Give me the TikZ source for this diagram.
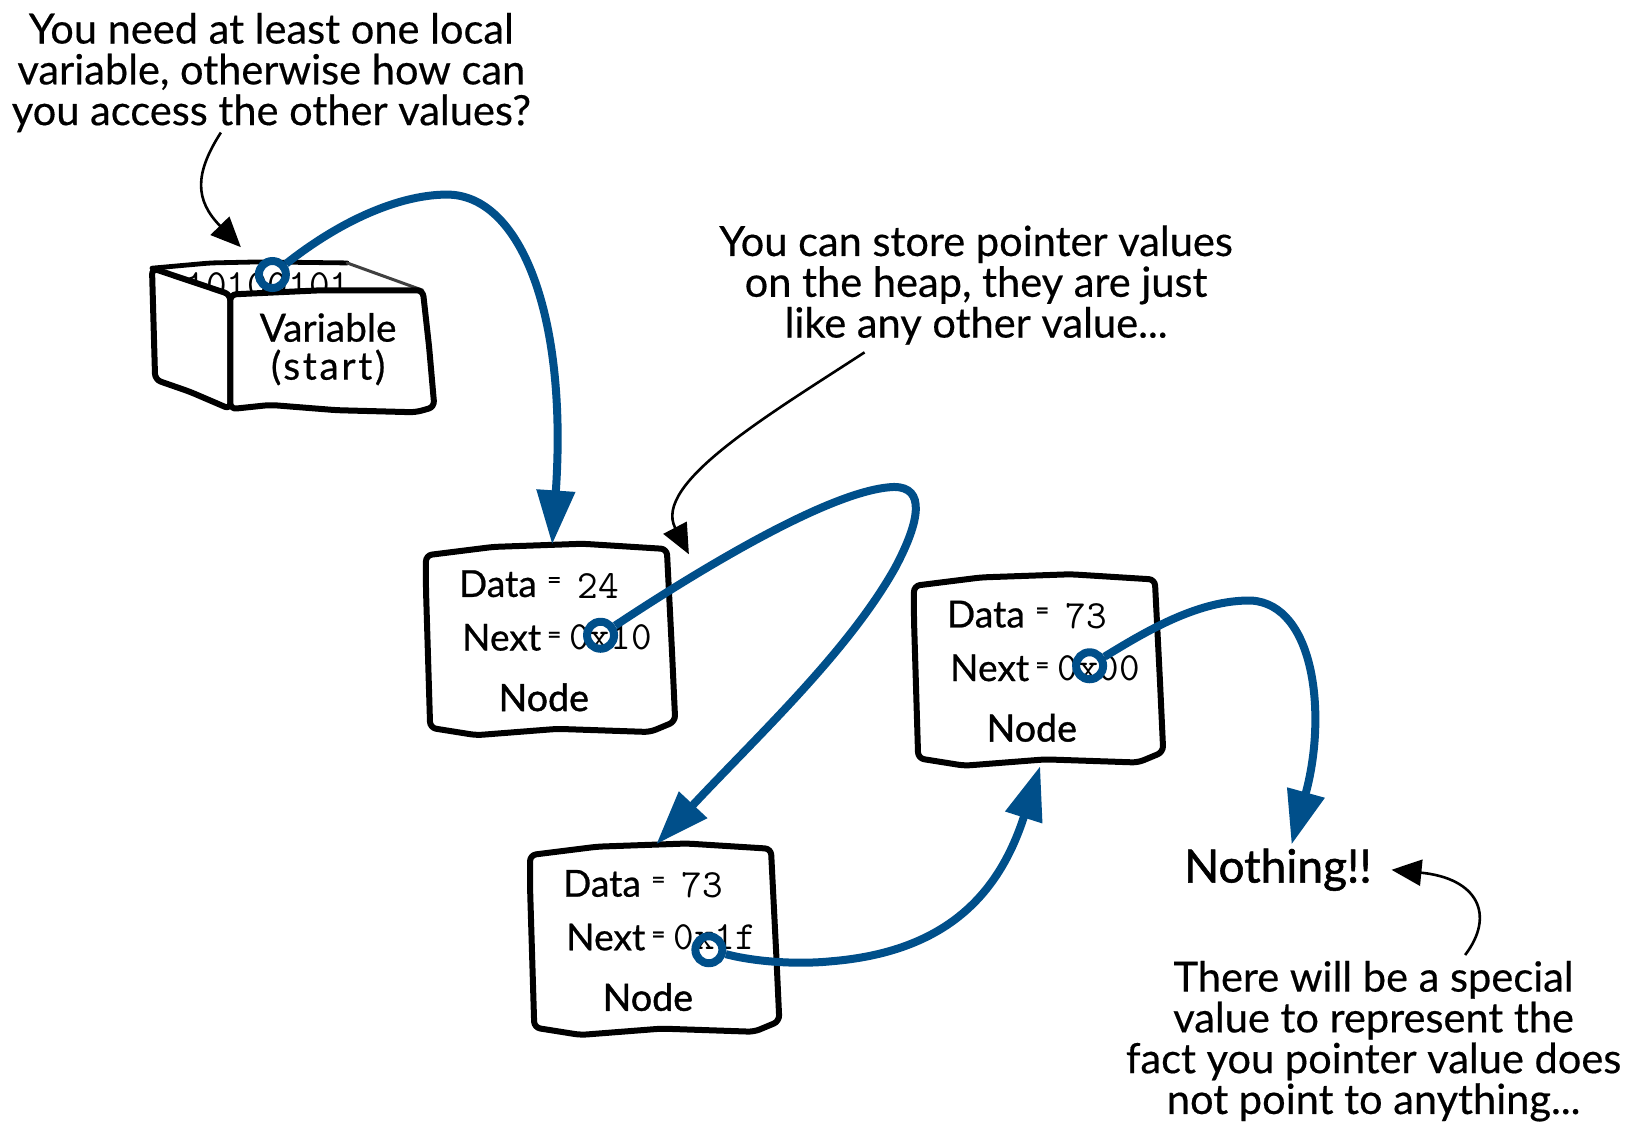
\documentclass[tikz,border=0pt]{standalone}
\usepackage{fontspec}
\setmainfont{Lato}
\usetikzlibrary{arrows.meta}
\definecolor{ptr}{HTML}{004F8A}
\tikzset{
  notetext/.style={align=center,inner sep=0pt,font=\fontsize{20.8}{20.4}\selectfont\addfontfeature{FakeBold=.4}},
  labeltext/.style={anchor=west,inner sep=0pt,font=\fontsize{18.6}{20}\selectfont\addfontfeature{FakeBold=.6}},
  eqtext/.style={inner sep=0pt,font=\fontsize{12}{12}\selectfont\addfontfeature{FakeBold=1}},
  valuetext/.style={anchor=west,inner sep=0pt,font=\fontsize{20}{22}\selectfont\ttfamily\addfontfeature{LetterSpace=3}},
  nodetitle/.style={inner sep=0pt,font=\fontsize{18.8}{20}\selectfont\addfontfeature{FakeBold=1.2}},
  edgeline/.style={line width=3pt,line join=round,line cap=round,rounded corners=3pt},
  ring/.style={circle,draw=ptr,line width=4pt,minimum size=13.5pt,inner sep=0pt},
  ptrarrow/.style={draw=ptr,line width=4pt,-{Triangle[width=18.5pt,length=27pt,fill=ptr]}},
  notearrow/.style={draw=black,line width=1.3pt,-{Triangle[width=13pt,length=15pt,fill=black]}},
  anchorbox/.style={minimum width=121pt,minimum height=95.2pt,inner sep=0pt}
}
\newcommand{\listnode}[5]{%
  \begin{scope}[shift={(#1,#2)}]
    \draw[edgeline,fill=white] (405,560) -- (405,528) -- (469,520) -- (554,517) -- (634,522) -- (639,621) -- (642,686) -- (618,696) -- (530,693) -- (453,699) -- (409,692) -- cycle;
    \node[anchorbox] (#3) at (525,608.5) {};
    \node[labeltext] (#3d) at (436,555) {Data};
    \node[eqtext] (#3de) at (527,554) {=};
    \node[valuetext] (#3dv) at (549,557) {#4};
    \node[labeltext] (#3n) at (439,606) {Next};
    \node[eqtext] (#3ne) at (527,606) {=};
    \node[valuetext] (#3nv) at (541,606) {#5};
    \node[nodetitle] (#3t) at (517,663) {Node};
  \end{scope}}
\begin{document}
\begin{tikzpicture}[x=0.526pt,y=-0.526pt]
\useasboundingbox (0,0) rectangle (1565,1073.4);
\fill[white] (0,0) rectangle (1565,1073.4);

% variable box
\fill[white] (144.5,255) -- (200,250) -- (247,249) -- (330,250) -- (402,276) -- (219,280) -- cycle;
\begin{scope}
  \clip (150,240) rectangle (335,300);
  \node[valuetext,font=\fontsize{20}{22}\selectfont\ttfamily\addfontfeature{LetterSpace=5}] (bits) at (176,271) {10100101};
\end{scope}
\draw[edgeline,line width=2.4pt] (144.5,255) -- (200,250) -- (247,249) -- (330,250);
\draw[edgeline,line width=1.5pt,draw=black!75] (330,250) -- (402,276);
\draw[edgeline,fill=white] (144.5,255) -- (219,280) -- (219,389) -- (180.6,372.5) -- (147.5,361) -- cycle;
\draw[edgeline,fill=white] (219,280) -- (305,276) -- (402,276) -- (408,330) -- (413,387) -- (395,392) -- (320,390) -- (257,385) -- (219,389) -- cycle;
\node[notetext,font=\fontsize{19.4}{19}\selectfont\addfontfeature{FakeBold=.6}] (var) at (312,332) {Variable\\{\addfontfeature{LetterSpace=7}(start)}};
\node[ring] (r0) at (259,261) {};

% list nodes
\listnode{0}{0}{na}{24}{0x10}
\listnode{99}{285}{nb}{73}{0x1f}
\listnode{464}{29}{nc}{73}{0x00}
\node[ring] (nar) at (571,604) {};
\node[ring] (nbr) at (674,903) {};
\node[ring] (ncr) at (1036,633) {};

% texts
\node[notetext] (note1) at (258,69) {You need at least one local\\variable, otherwise how can\\you access the other values?};
\node[notetext] (note2) at (928,271) {You can store pointer values\\on the heap, they are just\\like any other value...};
\node[notetext] (note3) at (1306,990) {There will be a special\\value to represent the\\fact you pointer value does\\not point to anything...};
\node[notetext,font=\fontsize{23}{25}\selectfont\addfontfeature{FakeBold=1.2}] (nothing) at (1215,827) {Nothing!!};

% note arrows
\coordinate (c1) at (210,126);
\coordinate (e1) at (229,235);
\coordinate (c2) at (822,335);
\coordinate (e2) at (655,527);
\coordinate (c3) at (1393,908);
\coordinate (e3) at (1323,827);
\draw[notearrow] (c1) .. controls (185,165) and (185,190) .. (e1);
\draw[notearrow] (c2) .. controls (730,395) and (620,460) .. (e2);
\draw[notearrow] (c3) .. controls (1422,870) and (1405,835) .. (e3);

% pointers
\draw[ptrarrow] (r0) .. controls (330,205) and (385,185) .. (425,185) .. controls (495,185) and (540,300) .. (na.north);
\draw[ptrarrow] (nar) .. controls (660,545) and (790,465) .. (850,463) .. controls (880,463) and (875,495) .. (851,540) .. controls (806,620) and (720,700) .. (nb.north);
\draw[ptrarrow] (nbr) .. controls (720,915) and (760,917) .. (790,914) .. controls (900,905) and (950,850) .. (nc.south);
\coordinate (nothingtop) at (1228,803);
\draw[ptrarrow] (ncr) .. controls (1090,600) and (1140,570) .. (1190,571) .. controls (1250,575) and (1262,680) .. (nothingtop);
\end{tikzpicture}
\end{document}
